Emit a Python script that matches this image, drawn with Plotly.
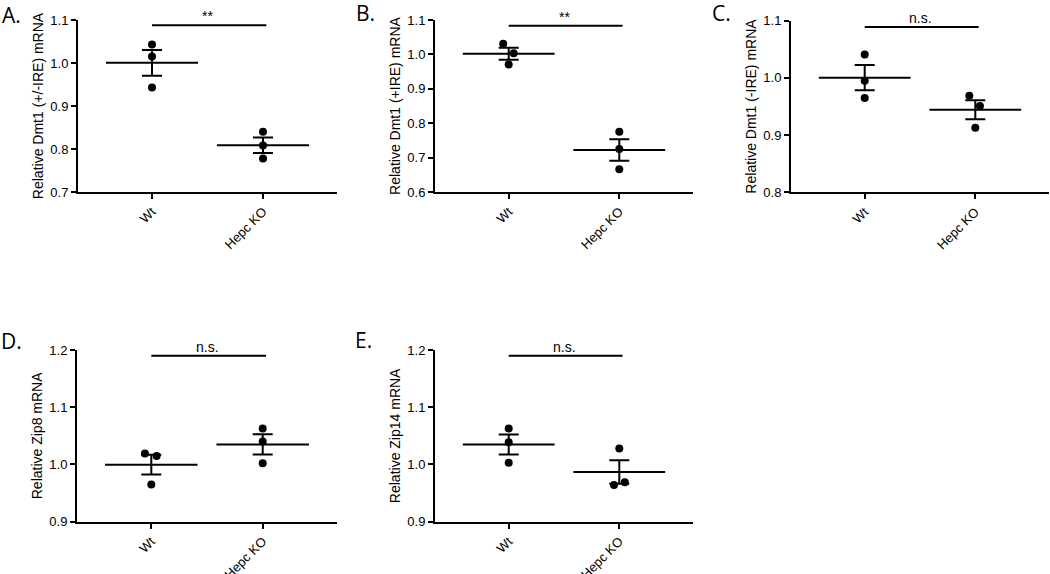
import numpy as np
import plotly.graph_objects as go

# ---------------- data ----------------
groups = ["Wt", "Hepc KO"]
panel_letters = ["A.", "B.", "C.", "D.", "E."]
y_titles = [
    "Relative Dmt1 (+/-IRE) mRNA",
    "Relative Dmt1 (+IRE) mRNA",
    "Relative Dmt1 (-IRE) mRNA",
    "Relative Zip8 mRNA",
    "Relative Zip14 mRNA",
]
sig_labels = ["**", "**", "n.s.", "n.s.", "n.s."]

dmt1_all_wt = [1.043, 1.015, 0.943]
dmt1_all_ko = [0.840, 0.808, 0.778]
dmt1_ire_wt = [1.031, 1.003, 0.971]
dmt1_ire_ko = [0.775, 0.725, 0.666]
dmt1_noire_wt = [1.041, 0.995, 0.965]
dmt1_noire_ko = [0.969, 0.951, 0.913]
zip8_wt = [1.019, 1.015, 0.965]
zip8_ko = [1.063, 1.040, 1.002]
zip14_wt = [1.063, 1.039, 1.003]
zip14_ko = [1.028, 0.964, 0.969]

y_min = [0.7, 0.6, 0.8, 0.9, 0.9]
y_max = [1.1, 1.1, 1.1, 1.2, 1.2]

# ---------------- layout / style ----------------
panels_wt = [dmt1_all_wt, dmt1_ire_wt, dmt1_noire_wt, zip8_wt, zip14_wt]
panels_ko = [dmt1_all_ko, dmt1_ire_ko, dmt1_noire_ko, zip8_ko, zip14_ko]
# horizontal spread of overlapping dots (category units)
spread_wt = [[0, 0, 0], [-0.05, 0.045, 0], [0, 0, 0], [-0.057, 0.048, 0], [0, 0, 0]]
spread_ko = [[0, 0, 0], [0, 0, 0], [-0.054, 0.042, 0], [0, 0, 0], [0, -0.048, 0.05]]
sig_y = [1.088, 1.083, 1.089, 1.19, 1.19]

W, H = 1050, 574
# pixel boxes of plot areas: (x0, x1, ytop, ybottom)
boxes = [
    (78, 337, 20, 192),
    (435, 693, 20, 192),
    (791, 1049, 20.7, 192.3),
    (77, 337, 350, 521.7),
    (435, 693, 350, 521.7),
]
letter_pos = [(0, -1), (354, -3), (710, -3), (-1, 325), (353, 324)]

FONT = "Liberation Sans, Arial, sans-serif"

fig = go.Figure()
layout = dict(
    width=W, height=H,
    margin=dict(l=0, r=0, t=0, b=0),
    paper_bgcolor="white", plot_bgcolor="white",
    showlegend=False,
    font=dict(family=FONT, color="black", size=13),
)
annotations = []
shapes = []

for i in range(5):
    sfx = "" if i == 0 else str(i + 1)
    xa, ya = "x" + sfx, "y" + sfx
    x0, x1, yt, yb = boxes[i]
    wt = np.array(panels_wt[i])
    ko = np.array(panels_ko[i])
    means = [wt.mean(), ko.mean()]
    sems = [wt.std(ddof=1) / np.sqrt(len(wt)), ko.std(ddof=1) / np.sqrt(len(ko))]

    # mean line + SEM error bar
    fig.add_trace(go.Scatter(
        x=[0, 1], y=means, xaxis=xa, yaxis=ya, mode="markers",
        marker=dict(size=1, color="rgba(0,0,0,0)"),
        error_y=dict(type="data", array=sems, visible=True, width=10,
                     thickness=2, color="black"),
        error_x=dict(type="constant", value=0.415, visible=True, width=0,
                     thickness=2, color="black"),
        hoverinfo="skip", cliponaxis=False,
    ))
    # individual points
    xs = [0 + d for d in spread_wt[i]] + [1 + d for d in spread_ko[i]]
    ys = list(wt) + list(ko)
    fig.add_trace(go.Scatter(
        x=xs, y=ys, xaxis=xa, yaxis=ya, mode="markers",
        marker=dict(size=8, color="black"), cliponaxis=False,
    ))

    layout["xaxis" + sfx] = dict(
        domain=[x0 / W, x1 / W], anchor=ya, range=[-2 / 3, 5 / 3],
        tickmode="array", tickvals=[0, 1], ticktext=groups, tickangle=-45,
        showline=True, linecolor="black", linewidth=2,
        ticks="outside", ticklen=5, tickwidth=2, tickcolor="black",
        showgrid=False, zeroline=False, automargin=False,
        tickfont=dict(family=FONT, size=13, color="black"),
    )
    layout["yaxis" + sfx] = dict(
        domain=[1 - yb / H, 1 - yt / H], anchor=xa, range=[y_min[i], y_max[i]],
        dtick=0.1, tick0=0, tickformat=".1f",
        showline=True, linecolor="black", linewidth=2,
        ticks="outside", ticklen=5, tickwidth=2, tickcolor="black",
        showgrid=False, zeroline=False, automargin=False,
        tickfont=dict(family=FONT, size=13, color="black"),
        title=dict(text=y_titles[i], font=dict(family=FONT, size=14, color="black"),
                   standoff=3),
    )
    # significance bar
    shapes.append(dict(type="line", xref=xa, yref=ya, x0=0, x1=1.03,
                       y0=sig_y[i], y1=sig_y[i], line=dict(color="black", width=2)))
    annotations.append(dict(
        text=sig_labels[i], xref=xa, yref=ya, x=0.5, y=sig_y[i],
        xanchor="center", yanchor="bottom", showarrow=False, yshift=-1,
        font=dict(family=FONT, size=14, color="black"),
    ))
    # panel letter
    lx, ly = letter_pos[i]
    annotations.append(dict(
        text=panel_letters[i], xref="paper", yref="paper",
        x=lx / W, y=1 - ly / H, xanchor="left", yanchor="top", showarrow=False,
        font=dict(family="Open Sans, sans-serif", size=21, color="black"),
    ))

layout["annotations"] = annotations
layout["shapes"] = shapes
fig.update_layout(**layout)

fig.write_html("out.html", config={"displayModeBar": False},
               post_script="document.body.style.margin='0';")
